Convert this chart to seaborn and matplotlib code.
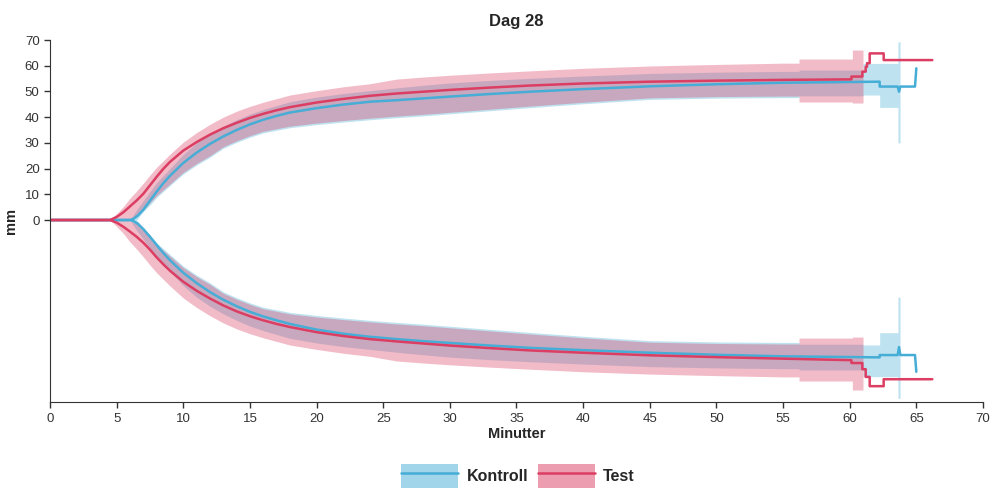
import matplotlib
matplotlib.use("Agg")
import matplotlib.pyplot as plt
import seaborn as sns
import pandas as pd
from matplotlib.patches import Patch
from matplotlib.lines import Line2D

# ---- Data -------------------------------------------------------------
series_names = ["Kontroll", "Test"]
x_ticks = list(range(0, 75, 5))
y_ticks = list(range(0, 80, 10))

# Test: mean amplitude (upper trace / lower trace)
test_t = [0, 4.5, 5, 5.5, 6, 6.5, 7, 7.5, 8, 8.5, 9, 10, 11, 12, 13, 14, 15, 16, 17, 18,
          20, 22, 24, 26, 28, 30, 33, 36, 40, 45, 50, 55, 60.13, 60.13, 60.95, 60.95,
          61.2, 61.2, 61.3, 61.3, 61.5, 61.5, 62.55, 62.55, 66.2]
test_upper = [0, 0, 1.2, 3, 5.3, 7.6, 10.2, 13.5, 16.8, 19.9, 22.6, 27, 30.3, 33.2, 35.7, 37.8,
              39.7, 41.3, 42.7, 43.9, 45.7, 47.1, 48.3, 49.2, 49.9, 50.6, 51.5, 52.3, 53.1,
              53.8, 54.2, 54.5, 54.7, 55.8, 55.8, 57.7, 57.7, 59.6, 59.6, 61, 61, 64.8, 64.8,
              62.2, 62.2]
test_lower = [0, 0, -1, -2.6, -4.5, -6.5, -8.8, -11.5, -14.5, -17.2, -19.7, -24, -27.5, -30.5,
              -33.2, -35.5, -37.4, -39, -40.4, -41.6, -43.6, -45.1, -46.3, -47.2, -48, -48.8,
              -49.8, -50.7, -51.6, -52.6, -53.3, -53.9, -54.5, -55.6, -55.6, -58, -58, -61,
              -61, -61, -61, -64.6, -64.6, -61.9, -61.9]

# Kontroll: mean amplitude (upper trace / lower trace)
kontroll_t = [0, 6, 6.3, 6.6, 7, 7.5, 8, 8.5, 9, 10, 11, 12, 13, 14, 15, 16, 17, 18, 20, 22,
              24, 26, 28, 30, 33, 36, 40, 45, 50, 55, 62.25, 62.25, 63.6, 63.7, 63.8, 64.9, 65.0]
kontroll_upper = [0, 0, 0.6, 1.8, 4, 7.5, 11, 14.3, 17.2, 22.2, 26.2, 29.6, 32.5, 35, 37.2,
                  39, 40.5, 41.8, 43.5, 44.9, 46, 46.6, 47.3, 48, 49, 49.9, 50.9, 52, 52.8,
                  53.4, 53.8, 51.9, 51.9, 49.9, 51.9, 51.9, 59]
kontroll_lower = [0, 0, -0.5, -1.5, -3.5, -6.5, -9.7, -12.8, -15.6, -20.5, -24.5, -28, -31,
                  -33.5, -35.7, -37.5, -39, -40.4, -42.6, -44.2, -45.4, -46.3, -47.1, -47.8,
                  -48.8, -49.7, -50.6, -51.6, -52.4, -53, -53.4, -52.5, -52.5, -49.4, -52.5,
                  -52.5, -59]

# Spread bands (distance from baseline, used for both traces)
test_band_t = [0, 4.5, 5, 5.5, 6, 6.5, 7, 7.5, 8, 9, 10, 11, 12, 13, 14, 15, 16, 18, 20, 22,
               24, 26, 28, 30, 33, 36, 40, 45, 50, 55, 56.2, 56.2, 60.2, 60.2, 61]
test_band_hi = [0, 0, 2.5, 5.2, 8.5, 11.3, 14.3, 17.5, 20.5, 25.6, 30.3, 34, 37.2, 40, 42.3,
                44.2, 45.8, 48.6, 50.3, 51.8, 53, 54.8, 55.6, 56.3, 57.2, 58, 59, 59.9, 60.5,
                61, 61, 62.6, 62.6, 66.1, 66.1]
test_band_lo = [0, 0, 0, 0, 0.3, 1.5, 4, 6.7, 9.5, 14, 18.5, 22, 25, 28.5, 30.8, 32.8, 34.5,
                36.5, 37.7, 38.7, 39.6, 40.4, 41.1, 41.9, 43.1, 44.3, 45.8, 47.5, 48, 48.2,
                48.2, 45.9, 45.9, 45.5, 45.5]

kontroll_band_t = [0, 6, 6.5, 7, 7.5, 8, 9, 10, 11, 12, 13, 14, 15, 16, 18, 20, 22, 24, 26,
                   28, 30, 33, 36, 40, 45, 50, 55, 56.2, 56.2, 61, 61, 62.25, 62.25, 63.62,
                   63.62, 63.78]
kontroll_band_hi = [0, 0, 4, 7.5, 11, 14.5, 20, 25.5, 30, 33.5, 36.5, 39, 41.2, 43, 46, 47.8,
                    49.2, 50.3, 51.4, 52.4, 53.3, 54.3, 55.1, 56, 57, 57.5, 57.8, 57.8, 58.3,
                    58.3, 60.9, 60.9, 60.9, 60.9, 69.3, 69.3]
kontroll_band_lo = [0, 0, 0, 3.3, 5.8, 8.8, 13.4, 17.9, 21.4, 24.4, 27.9, 30.2, 32.2, 33.9,
                    35.9, 37.1, 38.1, 39, 39.8, 40.5, 41.3, 42.5, 43.7, 45.2, 46.9, 47.4, 47.6,
                    47.6, 48.3, 48.3, 48.6, 48.6, 43.8, 43.8, 30, 30]

colors = {"Kontroll": "#45ADD6", "Test": "#DC3D62"}

# ---- Figure -----------------------------------------------------------
sns.set_style("ticks")
plt.rcParams["font.family"] = ["Liberation Sans", "DejaVu Sans"]

fig = plt.figure(figsize=(9.92, 4.88), dpi=100)
ax = fig.add_axes([0.0504, 0.176, 0.9405, 0.742])

band_alpha = 0.35
for name, bt, lo, hi in [("Kontroll", kontroll_band_t, kontroll_band_lo, kontroll_band_hi),
                         ("Test", test_band_t, test_band_lo, test_band_hi)]:
    ax.fill_between(bt, lo, hi, color=colors[name], alpha=band_alpha, lw=0)
    ax.fill_between(bt, [-v for v in hi], [-v for v in lo], color=colors[name],
                    alpha=band_alpha, lw=0)

frames = []
for name, t, up, low in [("Kontroll", kontroll_t, kontroll_upper, kontroll_lower),
                         ("Test", test_t, test_upper, test_lower)]:
    frames.append(pd.DataFrame({"t": t, "mm": up, "serie": name, "trace": name + "_u"}))
    frames.append(pd.DataFrame({"t": t, "mm": low, "serie": name, "trace": name + "_l"}))
df = pd.concat(frames, ignore_index=True)

for trace, sub in df.groupby("trace", sort=False):
    serie = sub["serie"].iloc[0]
    sns.lineplot(data=sub, x="t", y="mm", ax=ax, color=colors[serie], lw=1.8,
                 estimator=None, sort=False, legend=False)

ax.set_xlim(0, 70)
ax.set_ylim(-70.8, 70)
ax.set_xticks(x_ticks)
ax.set_yticks(y_ticks)
ax.tick_params(axis="both", labelsize=9.5, colors="#333333", length=4, width=1)
for s in ["left", "bottom"]:
    ax.spines[s].set_color("#333333")
sns.despine(ax=ax)

ax.set_xlabel("Minutter", fontsize=10.5, fontweight="bold", labelpad=2)
ax.set_ylabel("mm", fontsize=10.5, fontweight="bold", labelpad=5)
ax.set_title("Dag 28", fontsize=12, fontweight="bold", pad=10)

handles = [(Patch(facecolor=colors[n], alpha=0.5, edgecolor="none"),
            Line2D([], [], color=colors[n], lw=1.8)) for n in series_names]
fig.legend(handles, series_names, loc="center", bbox_to_anchor=(0.522, 0.024), ncol=2,
           frameon=False, prop={"weight": "bold", "size": 11.5}, handlelength=3.6,
           handleheight=1.9, handletextpad=0.5, columnspacing=0.6)

fig.savefig("out.png", dpi=100)
